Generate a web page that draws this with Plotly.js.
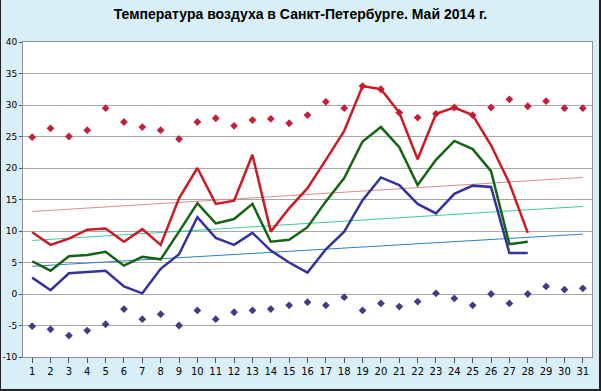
<!DOCTYPE html>
<html>
<head>
<meta charset="utf-8">
<script src="https://cdn.plot.ly/plotly-3.0.1.min.js"></script>
<style>
  html, body { margin: 0; padding: 0; background: #d9eff7; }
  #wrap { position: relative; width: 601px; height: 391px; }
  #chart { width: 601px; height: 391px; }
  #frame { position: absolute; left: 0; top: 0; width: 598px; height: 389px;
           border-left: 1px solid #222; border-right: 2px solid #222; border-bottom: 2px solid #222;
           pointer-events: none; }
</style>
</head>
<body>
<div id="wrap"><div id="chart"></div><div id="frame"></div></div>
<script>
const days = [1,2,3,4,5,6,7,8,9,10,11,12,13,14,15,16,17,18,19,20,21,22,23,24,25,26,27,28,29,30,31];
const daysObs = days.slice(0, 28);

const tMax = [9.8,7.8,8.8,10.2,10.4,8.3,10.3,7.8,15.2,20.0,14.3,14.8,22.1,9.9,13.6,16.8,21.3,25.9,33.0,32.5,28.8,21.4,28.6,29.6,28.4,23.6,17.6,9.7];
const tMean = [5.2,3.7,6.0,6.2,6.7,4.5,5.9,5.5,9.9,14.4,11.2,11.9,14.3,8.3,8.6,10.6,14.7,18.4,24.2,26.5,23.3,17.3,21.3,24.3,23.0,19.5,7.9,8.3];
const tMin = [2.6,0.6,3.3,3.5,3.7,1.2,0.1,4.0,6.3,12.2,8.9,7.8,9.7,6.9,5.0,3.4,7.1,9.9,14.9,18.5,17.3,14.3,12.8,15.9,17.2,17.0,6.5,6.5];

const recMax = [24.9,26.3,25.0,26.0,29.5,27.3,26.5,26.0,24.6,27.3,27.9,26.7,27.6,27.8,27.1,28.4,30.5,29.5,33.0,32.5,28.8,28.0,28.6,29.6,28.4,29.6,30.9,29.8,30.6,29.5,29.5];
const recMin = [-5.1,-5.6,-6.6,-5.8,-4.8,-2.4,-4.0,-3.2,-5.0,-2.6,-4.0,-2.9,-2.6,-2.4,-1.8,-1.3,-1.8,-0.5,-2.6,-1.5,-2.0,-1.2,0.1,-0.7,-1.8,0.0,-1.5,0.0,1.2,0.7,0.9];

const trendDays = [1, 31];
const trendMax = [13.1, 18.5];
const trendMean = [8.5, 13.9];
const trendMin = [4.4, 9.5];

const yTicks = [-10, -5, 0, 5, 10, 15, 20, 25, 30, 35, 40];
const yTickText = ['-10', '-5', '0', '5', '10', '15', '20', '25', '30', '35', '40'];

const titleText = 'Температура воздуха в Санкт-Петербурге. Май 2014 г.';

const traces = [
  {x: trendDays, y: trendMax, mode: 'lines', line: {color: '#d88c8c', width: 1}},
  {x: trendDays, y: trendMean, mode: 'lines', line: {color: '#3ccc9a', width: 1}},
  {x: trendDays, y: trendMin, mode: 'lines', line: {color: '#2f7fbf', width: 1}},
  {x: days, y: recMax, mode: 'markers', marker: {symbol: 'diamond', size: 6, color: '#c0203a'}},
  {x: days, y: recMin, mode: 'markers', marker: {symbol: 'diamond', size: 6, color: '#3e3e80'}},
  {x: daysObs, y: tMin, mode: 'lines', line: {color: '#33339a', width: 2.5}},
  {x: daysObs, y: tMean, mode: 'lines', line: {color: '#146414', width: 2.5}},
  {x: daysObs, y: tMax, mode: 'lines', line: {color: '#cc1a24', width: 2.5}}
];

const layout = {
  width: 601, height: 391,
  paper_bgcolor: '#d9eff7',
  plot_bgcolor: '#ffffff',
  showlegend: false,
  margin: {l: 23, r: 9, t: 42, b: 34},
  title: {text: titleText, x: 0.5, xanchor: 'center', y: 0.963, yanchor: 'middle',
          font: {family: '"Liberation Sans Narrow", "Arial Narrow", Arial, sans-serif', size: 14, color: '#000', weight: 'bold'}},
  xaxis: {
    range: [0.5, 31.5], tickmode: 'array', tickvals: days, ticktext: days.map(String),
    ticks: 'outside', ticklen: 5, tickcolor: '#555', showgrid: false, zeroline: false,
    showline: true, linecolor: '#909090', mirror: true,
    tickfont: {family: 'DejaVu Sans, Verdana, sans-serif', size: 10, color: '#000'}
  },
  yaxis: {
    range: [-10, 40], tickmode: 'array', tickvals: yTicks, ticktext: yTickText,
    ticks: 'outside', ticklen: 3, tickcolor: '#555',
    showgrid: true, gridcolor: '#a8a8a8', gridwidth: 1,
    zeroline: true, zerolinecolor: '#a8a8a8', zerolinewidth: 1,
    showline: true, linecolor: '#909090', mirror: true,
    tickfont: {family: 'DejaVu Sans, Verdana, sans-serif', size: 9, color: '#000'}
  }
};

Plotly.newPlot('chart', traces, layout, {displayModeBar: false, staticPlot: true});
</script>
</body>
</html>
